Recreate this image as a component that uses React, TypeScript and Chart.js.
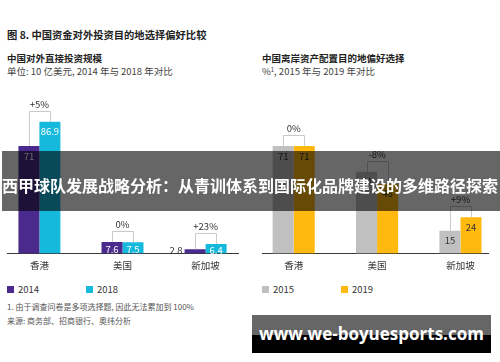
import React, { useEffect, useRef } from "react";
import { Chart, registerables } from "chart.js";

Chart.register(...registerables);

// ---- data ----
const categories = ["香港", "美国", "新加坡"];
const fdiYears = ["2014", "2018"];
const fdi2014 = [71, 7.6, 2.8];
const fdi2018 = [86.9, 7.5, 6.4];
const fdiChange = ["+5%", "0%", "+23%"];

const prefYears = ["2015", "2019"];
const pref2015 = [71, 54, 15];
const pref2019 = [71, 46, 24];
const prefChange = ["0%", "-8%", "+9%"];

const FONT = "'Noto Sans CJK SC', 'Noto Sans', sans-serif";
const DARK = "#333333";

const annotatePlugin = {
  id: "annot",
  afterDatasetsDraw(chart: any, _args: any, opts: any) {
    const ctx = chart.ctx;
    const m0 = chart.getDatasetMeta(0);
    const m1 = chart.getDatasetMeta(1);
    ctx.save();
    ctx.font = `9.5px ${FONT}`;
    ctx.textBaseline = "middle";
    categories.forEach((_c, i) => {
      const bars = [m0.data[i], m1.data[i]];
      bars.forEach((b: any, k: number) => {
        const v = chart.data.datasets[k].data[i].y;
        const h = b.base - b.y;
        const txt = String(v);
        if (h < 8) {
          ctx.textAlign = "right";
          ctx.fillStyle = DARK;
          ctx.fillText(txt, b.x - b.width / 2 - 2, (b.y + b.base) / 2 - 1);
        } else {
          ctx.textAlign = "center";
          ctx.fillStyle = opts.labelColor;
          ctx.fillText(txt, b.x, b.y + Math.min(10, h / 2 + 1.5));
        }
      });
      const [b0, b1]: any[] = bars;
      const top = Math.round(Math.min(b0.y, b1.y) - 11) + 0.5;
      const x0 = Math.round(b0.x) + 0.5;
      const x1 = Math.round(b1.x) + 0.5;
      ctx.strokeStyle = "#c9c9c9";
      ctx.lineWidth = 1;
      ctx.beginPath();
      ctx.moveTo(x0, b0.y);
      ctx.lineTo(x0, top);
      ctx.lineTo(x1, top);
      ctx.lineTo(x1, b1.y);
      ctx.stroke();
      ctx.textAlign = "center";
      ctx.fillStyle = DARK;
      ctx.fillText(opts.changes[i], (b0.x + b1.x) / 2, top - 7);
    });
    ctx.restore();
  },
};

function makeConfig(
  a: number[],
  b: number[],
  years: string[],
  colors: string[],
  changes: string[],
  labelColor: string,
  xmin: number,
  xmax: number,
  padL: number,
  padR: number
): any {
  return {
    type: "bar",
    data: {
      datasets: [
        {
          label: years[0],
          data: a.map((v, i) => ({ x: i, y: v })),
          backgroundColor: colors[0],
          borderWidth: 0,
          categoryPercentage: 0.505,
          barPercentage: 1,
        },
        {
          label: years[1],
          data: b.map((v, i) => ({ x: i, y: v })),
          backgroundColor: colors[1],
          borderWidth: 0,
          categoryPercentage: 0.505,
          barPercentage: 1,
        },
      ],
    },
    options: {
      animation: false,
      responsive: false,
      maintainAspectRatio: false,
      layout: { padding: { left: padL, right: padR, top: 12, bottom: 0 } },
      scales: {
        x: {
          type: "linear",
          min: xmin,
          max: xmax,
          bounds: "data",
          offset: false,
          grid: { display: false, drawTicks: false, offset: false },
          border: { display: true, color: "#3a3a3a", width: 1 },
          afterBuildTicks: (s: any) => {
            s.ticks = categories.map((_c, i) => ({ value: i }));
          },
          ticks: {
            callback: (v: any) => categories[v] ?? "",
            color: DARK,
            font: { family: FONT, size: 9.5 },
            padding: 6,
            autoSkip: false,
            maxRotation: 0,
          },
        },
        y: { display: false, min: 0, max: 100 },
      },
      plugins: {
        legend: { display: false },
        tooltip: { enabled: false },
        annot: { changes, labelColor },
      },
    },
    plugins: [annotatePlugin],
  };
}

function BarCanvas(props: { config: any; style: React.CSSProperties; w: number; h: number }) {
  const ref = useRef<HTMLCanvasElement | null>(null);
  useEffect(() => {
    if (!ref.current) return;
    const chart = new Chart(ref.current, props.config);
    return () => chart.destroy();
  }, []);
  return <canvas ref={ref} width={props.w} height={props.h} style={{ position: "absolute", width: props.w, height: props.h, ...props.style }} />;
}

function Legend(props: { x: number; items: { label: string; color: string }[]; gap: number }) {
  return (
    <>
      {props.items.map((it, i) => (
        <div
          key={i}
          style={{
            position: "absolute",
            left: props.x + i * props.gap,
            top: 282,
            height: 14,
            display: "flex",
            alignItems: "center",
            fontSize: 9.5,
            color: DARK,
            whiteSpace: "nowrap",
          }}
        >
          <span style={{ display: "inline-block", width: 7, height: 7, background: it.color, marginRight: 4 }} />
          <span>{it.label}</span>
        </div>
      ))}
    </>
  );
}

const leftColors = ["#4a2b8d", "#14b9dc"];
const rightColors = ["#c0c0c0", "#ffb90f"];

export default function App() {
  const leftCfg = makeConfig(fdi2014, fdi2018, fdiYears, leftColors, fdiChange, "#ffffff", -0.39, 2.39, 7, 12);
  const rightCfg = makeConfig(pref2015, pref2019, prefYears, rightColors, prefChange, DARK, -0.38, 2.33, 12, 12);
  const txt = (s: React.CSSProperties): React.CSSProperties => ({ position: "absolute", whiteSpace: "nowrap", lineHeight: 1, ...s });
  return (
    <div
      style={{
        position: "fixed",
        left: 0,
        top: 0,
        width: 500,
        height: 362,
        background: "#ffffff",
        overflow: "hidden",
        fontFamily: FONT,
      }}
    >
      <div style={txt({ left: 7, top: 30, fontSize: 10.3, fontWeight: 700, color: "#222" })}>图 8. 中国资金对外投资目的地选择偏好比较</div>
      <div style={txt({ left: 7, top: 54, fontSize: 9.5, fontWeight: 700, color: "#222" })}>中国对外直接投资规模</div>
      <div style={txt({ left: 7, top: 67, fontSize: 9.5, color: "#444" })}>单位: 10 亿美元, 2014 年与 2018 年对比</div>
      <div style={txt({ left: 262, top: 54, fontSize: 9.5, fontWeight: 700, color: "#222" })}>中国离岸资产配置目的地偏好选择</div>
      <div style={txt({ left: 262, top: 67, fontSize: 9.5, color: "#444" })}>
        %<sup style={{ fontSize: 6, verticalAlign: "top" }}>1</sup>, 2015 年与 2019 年对比
      </div>

      <BarCanvas config={leftCfg} style={{ left: 0, top: 90 }} w={250} h={187} />
      <BarCanvas config={rightCfg} style={{ left: 250, top: 90 }} w={250} h={187} />

      <Legend x={7} gap={79} items={fdiYears.map((y, i) => ({ label: y, color: leftColors[i] }))} />
      <Legend x={262} gap={79} items={prefYears.map((y, i) => ({ label: y, color: rightColors[i] }))} />

      <div style={txt({ left: 7, top: 303, fontSize: 8, color: "#555" })}>1. 由于调查问卷是多项选择题, 因此无法累加到 100%</div>
      <div style={txt({ left: 7, top: 317, fontSize: 8, color: "#555" })}>来源: 商务部、招商银行、奥纬分析</div>

      <div style={{ position: "absolute", left: 2, top: 151, width: 498, height: 60, background: "rgba(0,0,0,0.6)" }} />
      <div style={txt({ left: 2, top: 177, fontSize: 16, fontWeight: 700, color: "#ffffff" })}>
        西甲球队发展战略分析：从青训体系到国际化品牌建设的多维路径探索
      </div>

      <div style={{ position: "absolute", left: 252, top: 315, width: 239, height: 20, background: "#666666" }} />
      <div style={{ position: "absolute", left: 252, top: 335, width: 239, height: 18, background: "#000000" }} />
      <div
        style={txt({
          left: 252,
          width: 239,
          top: 325,
          textAlign: "center",
          fontFamily: "'Open Sans', sans-serif",
          fontSize: 17,
          fontWeight: 700,
          color: "#ffffff",
        })}
      >
        www.we-boyuesports.com
      </div>
    </div>
  );
}
